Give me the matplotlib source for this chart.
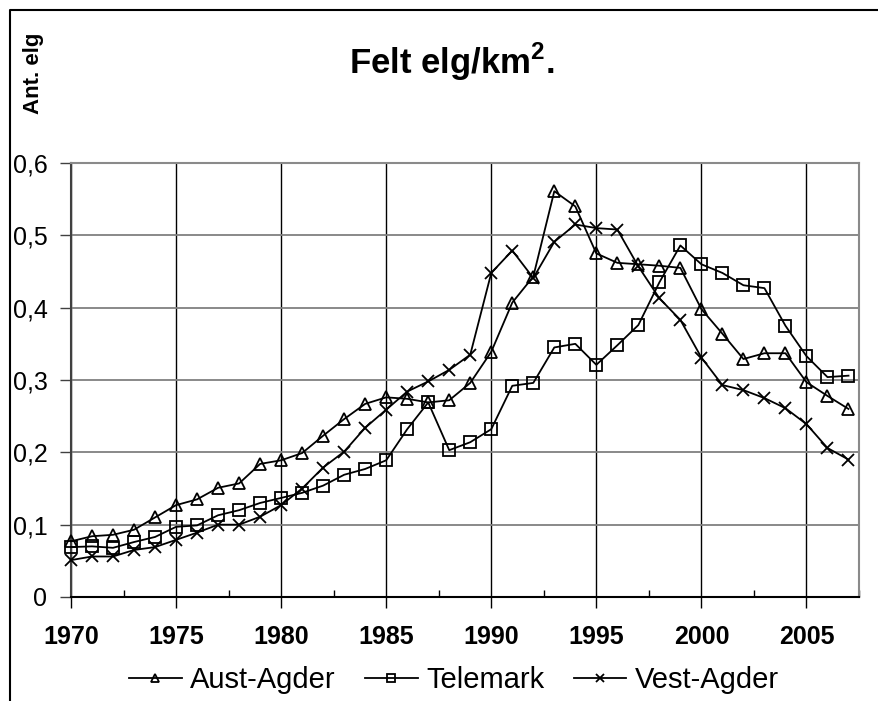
import matplotlib.pyplot as plt
from matplotlib.lines import Line2D

plt.rcParams['font.family'] = ['Liberation Sans', 'DejaVu Sans']
plt.rcParams['mathtext.fontset'] = 'custom'
plt.rcParams['mathtext.rm'] = 'Liberation Sans'
plt.rcParams['mathtext.bf'] = 'Liberation Sans:bold'

years = list(range(1970, 2008))

aust_agder = [0.077, 0.084, 0.086, 0.093, 0.110, 0.127, 0.135, 0.151, 0.157, 0.184,
              0.189, 0.199, 0.223, 0.246, 0.267, 0.276, 0.274, 0.269, 0.272, 0.296,
              0.339, 0.407, 0.443, 0.561, 0.540, 0.475, 0.462, 0.460, 0.458, 0.455,
              0.398, 0.364, 0.329, 0.337, 0.337, 0.297, 0.278, 0.260]

telemark = [0.069, 0.070, 0.068, 0.076, 0.083, 0.097, 0.099, 0.113, 0.120, 0.130,
            0.137, 0.144, 0.154, 0.169, 0.177, 0.189, 0.232, 0.269, 0.203, 0.214,
            0.232, 0.292, 0.296, 0.345, 0.350, 0.321, 0.348, 0.376, 0.435, 0.486,
            0.460, 0.448, 0.431, 0.427, 0.375, 0.333, 0.304, 0.306]

vest_agder = [0.051, 0.056, 0.056, 0.065, 0.069, 0.079, 0.089, 0.100, 0.100, 0.111,
              0.127, 0.150, 0.179, 0.201, 0.234, 0.259, 0.284, 0.298, 0.314, 0.335,
              0.448, 0.479, 0.441, 0.491, 0.515, 0.510, 0.508, 0.457, 0.413, 0.383,
              0.331, 0.293, 0.286, 0.275, 0.261, 0.239, 0.206, 0.190]

x_ticks = [1970, 1975, 1980, 1985, 1990, 1995, 2000, 2005]
y_ticks = [0, 0.1, 0.2, 0.3, 0.4, 0.5, 0.6]
y_labels = ['0', '0,1', '0,2', '0,3', '0,4', '0,5', '0,6']

fig = plt.figure(figsize=(8.79, 7.01), dpi=100)
ax = fig.add_axes([71/879, 1 - 597/701, (859 - 71)/879, (597 - 163)/701])

style = dict(color='black', lw=1.3, markersize=8, markerfacecolor='none',
             markeredgecolor='black', markeredgewidth=1.3, clip_on=False, zorder=3)
ax.plot(years, aust_agder, marker='^', label='Aust-Agder', **style)
ax.plot(years, telemark, marker='s', label='Telemark', **style)
ax.plot(years, vest_agder, marker='x', label='Vest-Agder', **style)

ax.set_xlim(1970, 2007)
ax.set_ylim(0, 0.6)

ax.set_yticks(y_ticks)
ax.set_yticklabels(y_labels, fontsize=18)
ax.set_xticks(x_ticks)
ax.set_xticklabels([str(t) for t in x_ticks], fontsize=18, fontweight='bold')
ax.set_xticks([t + 2.5 for t in x_ticks], minor=True)

ax.tick_params(axis='y', direction='out', length=8, width=1, pad=9, color='#404040')
ax.tick_params(axis='x', which='major', direction='out', length=8, width=1, pad=12)
ax.tick_params(axis='x', which='minor', direction='in', length=5, width=1)

ax.grid(axis='y', color='#808080', lw=1.3, zorder=1)
ax.grid(axis='x', which='major', color='black', lw=1, zorder=1)

ax.spines['left'].set_color('#404040')
ax.spines['bottom'].set_color('black')
ax.spines['top'].set_color('#8a8a8a')
ax.spines['right'].set_color('#8a8a8a')
for s in ax.spines.values():
    s.set_linewidth(1.5)

fig.text(452/879, 1 - 62/701, r'Felt elg/km$^{\mathbf{2}}$.', fontsize=25,
         fontweight='bold', ha='center', va='center')
fig.text(33/879, 1 - 73/701, 'Ant. elg', fontsize=16, fontweight='bold',
         rotation=90, ha='center', va='center')

fig.legend(loc='center', bbox_to_anchor=(454/879, 1 - 680/701), ncol=3,
           frameon=False, fontsize=21, handlelength=1.8, handletextpad=0.3,
           columnspacing=1.0, markerscale=0.7)

# outer chart frame
fig.add_artist(Line2D([9.5/879, 9.5/879, 1], [0, 1 - 10/701, 1 - 10/701],
                      transform=fig.transFigure, color='black', lw=1.5))

fig.savefig('out.png', dpi=100)
